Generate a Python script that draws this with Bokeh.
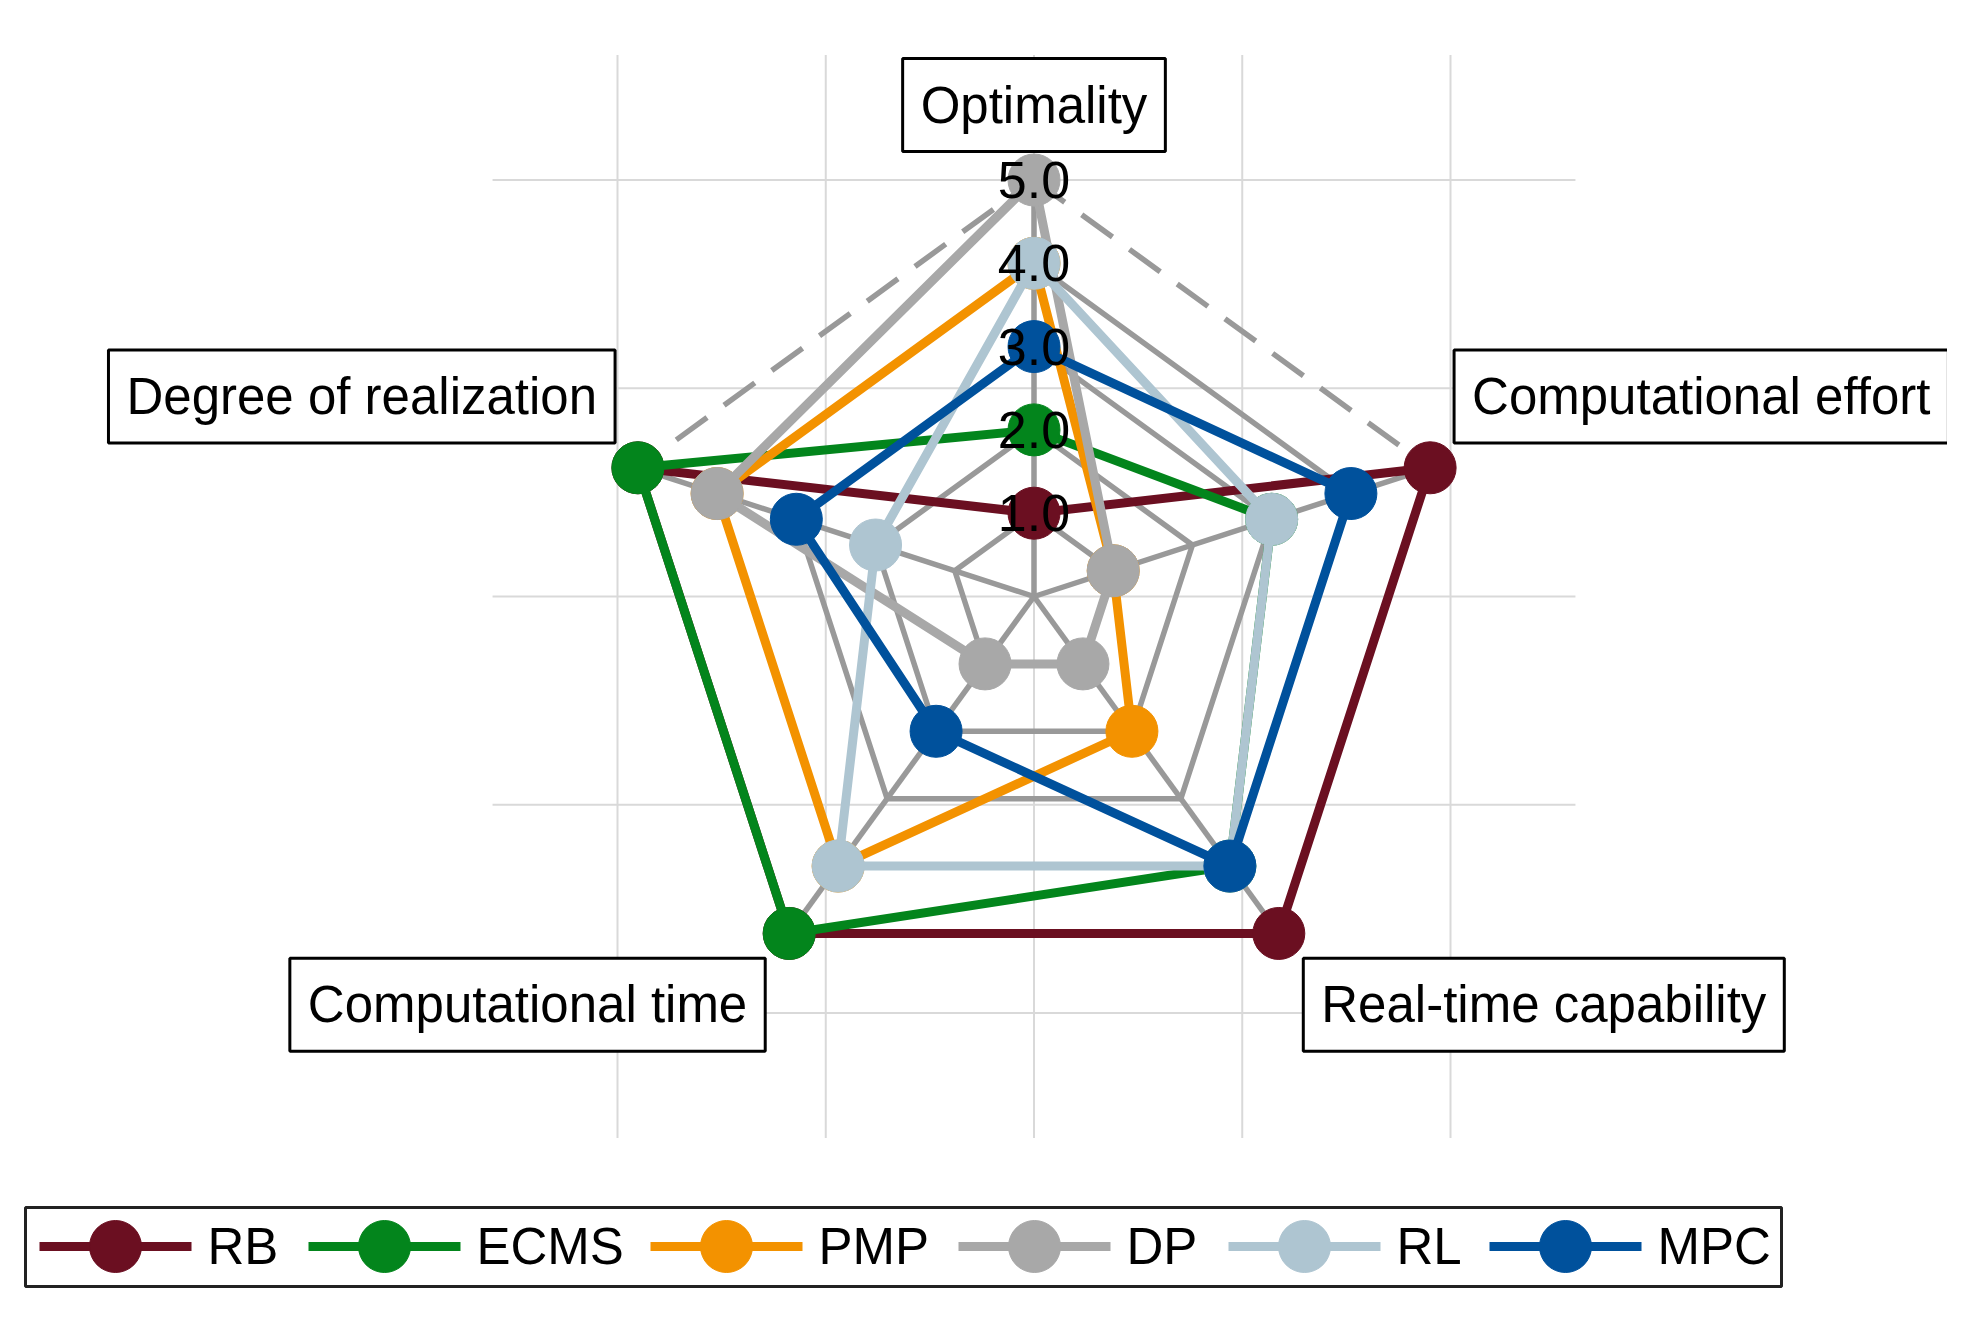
import numpy as np
from bokeh.plotting import figure
from bokeh.models import Label
from bokeh.core.properties import value
from bokeh.embed import file_html
from bokeh.resources import INLINE

# ---------------- data ----------------
axes_names = ["Optimality", "Computational effort", "Real-time capability",
              "Computational time", "Degree of realization"]
series_names = ["RB", "ECMS", "PMP", "DP", "RL", "MPC"]
rb = [1, 5, 5, 5, 5]
ecms = [2, 3, 4, 5, 5]
pmp = [4, 1, 2, 4, 4]
dp = [5, 1, 1, 1, 4]
rl = [4, 3, 4, 4, 2]
mpc = [3, 4, 4, 2, 3]
ring_levels = [1, 2, 3, 4]
outer_level = 5
tick_values = [1.0, 2.0, 3.0, 4.0, 5.0]
tick_labels = ["1.0", "2.0", "3.0", "4.0", "5.0"]
grid_ticks = [-5, -2.5, 0, 2.5, 5]

series_values = [rb, ecms, pmp, dp, rl, mpc]
colors = ["#6B0F21", "#03851C", "#F39200", "#A8A8A8", "#AEC5D1", "#00519C"]

# ---------------- layout ----------------
W, H = 1947, 1303
PX = 83.3
cx_px, cy_px = 1033.5, 596.0
x_range = (-cx_px / PX, (W - cx_px) / PX)
y_range = (-(H - cy_px) / PX, cy_px / PX)


def px2x(X):
    return (X - cx_px) / PX


def px2y(Y):
    return (cy_px - Y) / PX


FONT = "Liberation Sans"

p = figure(width=W, height=H, x_range=x_range, y_range=y_range,
           output_backend="svg", toolbar_location=None,
           x_axis_type=None, y_axis_type=None, min_border=0,
           outline_line_color=None, background_fill_color="white",
           border_fill_color="white")
p.grid.visible = False

# cartesian background grid
gext = 6.5
n = len(grid_ticks)
p.segment(x0=grid_ticks, y0=[-gext] * n, x1=grid_ticks, y1=[gext] * n,
          line_color="#D9D9D9", line_width=2)
p.segment(x0=[-gext] * n, y0=grid_ticks, x1=[gext] * n, y1=grid_ticks,
          line_color="#D9D9D9", line_width=2)

angles = np.deg2rad(90 - 72 * np.arange(len(axes_names)))


def polar(vals):
    v = np.asarray(vals, dtype=float)
    return list(v * np.cos(angles)), list(v * np.sin(angles))


# radar grid rings
for lev in ring_levels:
    xs, ys = polar([lev] * 5)
    p.line(xs + xs[:1], ys + ys[:1], line_color="#999999", line_width=5.5)
# spokes
ox, oy = polar([outer_level] * 5)
p.segment(x0=[0] * 5, y0=[0] * 5, x1=ox, y1=oy, line_color="#999999", line_width=5.5)
# outer dashed ring
p.line(ox + ox[:1], oy + oy[:1], line_color="#999999", line_width=5.5,
       line_dash="38 21")

for name, vals, col in zip(series_names, series_values, colors):
    xs, ys = polar(vals)
    p.line(xs + xs[:1], ys + ys[:1], line_color=col, line_width=9)
    p.scatter(xs, ys, size=52, fill_color=col, line_color=col, marker="circle")

# radial tick labels
p.text(x=[0] * 5, y=tick_values, text=tick_labels, text_font=value(FONT),
       text_font_size="52px", text_align="center", text_baseline="middle",
       text_color="black")

# axis labels in boxes
label_pos = [(0.0, 5.9), (8.01, 2.40), (6.12, -4.9), (-6.08, -4.9), (-8.07, 2.40)]
for name, (lx, ly) in zip(axes_names, label_pos):
    lab = Label(x=lx, y=ly, text=name, text_font=FONT, text_font_size="51px",
                text_align="center", text_baseline="middle", text_color="black",
                background_fill_color="white", background_fill_alpha=1.0,
                border_line_color="black", border_line_width=3, padding=18)
    p.add_layout(lab)

# ---------------- legend (drawn with glyphs for full-size markers) ----------------
leg_box = (25, 1207, 1781, 1286)          # left, top, right, bottom in px
leg_marker_px = [115, 384, 726, 1034, 1304, 1565]
leg_half_line = 76
leg_standoff = 16
leg_y = px2y(1246)

p.quad(left=[px2x(leg_box[0])], right=[px2x(leg_box[2])],
       top=[px2y(leg_box[1])], bottom=[px2y(leg_box[3])],
       fill_color="white", line_color="#222222", line_width=3)
mx = [px2x(m) for m in leg_marker_px]
p.segment(x0=[px2x(m - leg_half_line) for m in leg_marker_px], y0=[leg_y] * 6,
          x1=[px2x(m + leg_half_line) for m in leg_marker_px], y1=[leg_y] * 6,
          line_color=colors, line_width=9)
p.scatter(mx, [leg_y] * 6, size=52, fill_color=colors, line_color=colors,
          marker="circle")
p.text(x=[px2x(m + leg_half_line + leg_standoff) for m in leg_marker_px],
       y=[leg_y] * 6, text=series_names, text_font=value(FONT),
       text_font_size="51px", text_align="left", text_baseline="middle",
       text_color="black")

open("out.html", "w").write(file_html(p, INLINE))
